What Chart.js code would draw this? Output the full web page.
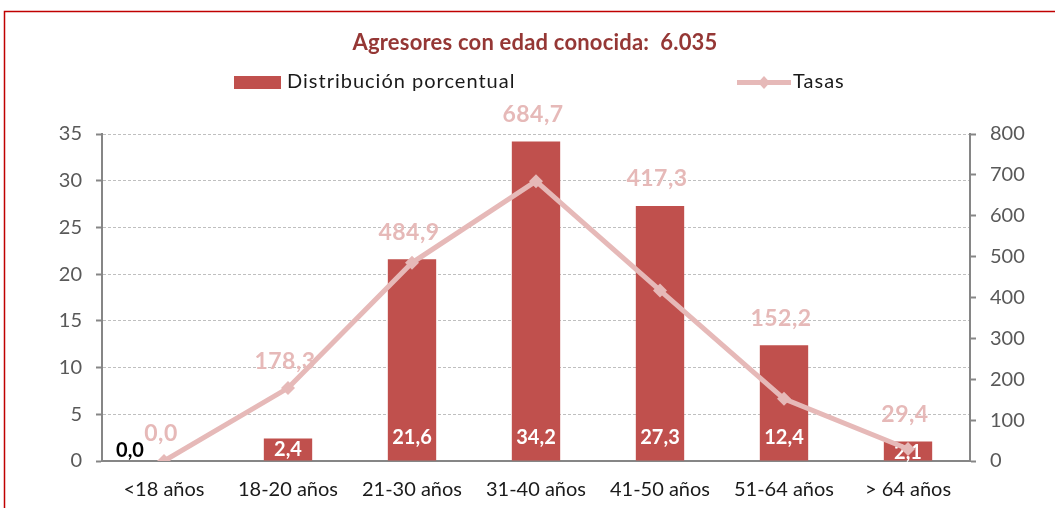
<!DOCTYPE html>
<html><head><meta charset="utf-8">
<script src="https://cdn.jsdelivr.net/npm/chart.js@4.4.1/dist/chart.umd.min.js"></script>
<style>html,body{margin:0;padding:0;background:#fff}#wrap{position:relative;width:1055px;height:508px}</style>
</head><body><div id="wrap"><canvas id="c" width="1055" height="508"></canvas></div>
<script>
const categories = ['<18 años', '18-20 años', '21-30 años', '31-40 años', '41-50 años', '51-64 años', '> 64 años'];
const distribucion = [0.0, 2.4, 21.6, 34.2, 27.3, 12.4, 2.1];
const tasas = [0.0, 178.3, 484.9, 684.7, 417.3, 152.2, 29.4];
const leftAxis = { min: 0, max: 35, step: 5 };
const rightAxis = { min: 0, max: 800, step: 100 };
const titleText = 'Agresores con edad conocida:  6.035';
const seriesNames = ['Distribución porcentual', 'Tasas'];

const BAR = '#C0504D', LINE = '#E6B9B8', AXIS = '#868686', GRID = '#BFBFBF';
const FONT = 'Lato, "Open Sans", sans-serif';
const fmt = v => v.toFixed(1).replace('.', ',');

const deco = {
  id: 'deco',
  beforeDraw(chart) {
    const ctx = chart.ctx;
    ctx.save();
    ctx.fillStyle = '#fff';
    ctx.fillRect(0, 0, chart.width, chart.height);
    ctx.strokeStyle = '#C00000';
    ctx.lineWidth = 1.5;
    ctx.beginPath();
    ctx.moveTo(4.5, chart.height + 2);
    ctx.lineTo(4.5, 11.5);
    ctx.lineTo(chart.width + 2, 11.5);
    ctx.stroke();
    ctx.restore();
  },
  afterDatasetDraw(chart, args) {
    if (args.index !== 0) return;
    const ctx = chart.ctx;
    const meta = chart.getDatasetMeta(0);
    const base = chart.scales.y.getPixelForValue(0);
    ctx.save();
    ctx.font = 'bold 20px ' + FONT;
    ctx.textAlign = 'center';
    ctx.textBaseline = 'middle';
    meta.data.forEach((bar, i) => {
      const v = distribucion[i];
      if (v === 0) {
        ctx.fillStyle = '#000';
        ctx.fillText(fmt(v), bar.x - 34, base - 10);
      } else {
        ctx.fillStyle = '#fff';
        ctx.fillText(fmt(v), bar.x, Math.max(bar.y + 11, base - 23));
      }
    });
    ctx.restore();
  },
  afterDraw(chart) {
    const ctx = chart.ctx;
    const barMeta = chart.getDatasetMeta(0);
    const lineMeta = chart.getDatasetMeta(1);
    ctx.save();
    // line labels
    ctx.font = 'bold 23px ' + FONT;
    if ('letterSpacing' in ctx) ctx.letterSpacing = '0.5px';
    ctx.fillStyle = LINE;
    ctx.textAlign = 'center';
    ctx.textBaseline = 'middle';
    lineMeta.data.forEach((pt, i) => {
      const top = Math.min(barMeta.data[i].y, pt.y);
      ctx.fillText(fmt(tasas[i]), pt.x - 3, top - 27);
    });
    // title
    ctx.font = 'bold 22px ' + FONT;
    if ('letterSpacing' in ctx) ctx.letterSpacing = '0.2px';
    ctx.fillStyle = '#953735';
    ctx.fillText(titleText, 535, 43);
    // legend
    ctx.fillStyle = BAR;
    ctx.fillRect(234, 76, 47, 13);
    ctx.font = '20px ' + FONT;
    if ('letterSpacing' in ctx) ctx.letterSpacing = '1px';
    ctx.fillStyle = '#1a1a1a';
    ctx.textAlign = 'left';
    ctx.fillText(seriesNames[0], 287, 82);
    ctx.strokeStyle = LINE;
    ctx.lineWidth = 5;
    ctx.beginPath();
    ctx.moveTo(737, 82.5);
    ctx.lineTo(791, 82.5);
    ctx.stroke();
    ctx.fillStyle = LINE;
    ctx.beginPath();
    ctx.moveTo(764, 76); ctx.lineTo(770, 82.5); ctx.lineTo(764, 89); ctx.lineTo(758, 82.5);
    ctx.closePath(); ctx.fill();
    ctx.fillStyle = '#1a1a1a';
    ctx.fillText(seriesNames[1], 793, 82);
    ctx.restore();
  }
};

function build() {
  new Chart(document.getElementById('c'), {
    data: {
      labels: categories,
      datasets: [
        { type: 'bar', label: seriesNames[0], data: distribucion, backgroundColor: BAR,
          yAxisID: 'y', order: 2, categoryPercentage: 1, barPercentage: 0.39 },
        { type: 'line', label: seriesNames[1], data: tasas, borderColor: LINE, backgroundColor: LINE,
          borderWidth: 5, pointStyle: 'rectRot', pointRadius: 7, pointHoverRadius: 7,
          pointBackgroundColor: LINE, pointBorderColor: LINE, pointBorderWidth: 0,
          yAxisID: 'y1', order: 1, tension: 0 }
      ]
    },
    options: {
      responsive: false, animation: false, devicePixelRatio: 1,
      layout: { padding: { top: 134, left: 0, right: 0, bottom: 0 } },
      plugins: { legend: { display: false }, title: { display: false }, tooltip: { enabled: false } },
      scales: {
        x: {
          grid: { display: false, drawTicks: false },
          border: { display: true, color: AXIS, width: 2 },
          ticks: { color: '#1a1a1a', font: { family: FONT, size: 20 }, padding: 17, maxRotation: 0 },
          afterFit(s) { s.height = 47; }
        },
        y: {
          position: 'left', min: leftAxis.min, max: leftAxis.max,
          ticks: { stepSize: leftAxis.step, color: '#595959', font: { family: FONT, size: 20 }, padding: 14 },
          grid: { color: GRID, lineWidth: 1, drawTicks: true, tickLength: 6, tickColor: AXIS, tickWidth: 2, tickBorderDash: [] },
          border: { display: true, color: AXIS, width: 2, dash: [3, 2] },
          afterFit(s) { s.width = 102; }
        },
        y1: {
          position: 'right', min: rightAxis.min, max: rightAxis.max,
          ticks: { stepSize: rightAxis.step, color: '#595959', font: { family: FONT, size: 20 }, padding: 14 },
          grid: { drawOnChartArea: false, drawTicks: true, tickLength: 6, tickColor: AXIS, tickWidth: 2 },
          border: { display: true, color: AXIS, width: 2 },
          afterFit(s) { s.width = 85; }
        }
      }
    },
    plugins: [deco]
  });
}
const fontReady = document.fonts ? Promise.all([
  document.fonts.load('20px Lato'), document.fonts.load('bold 20px Lato')
]).catch(() => {}) : Promise.resolve();
Promise.race([fontReady, new Promise(r => setTimeout(r, 800))]).then(build);
</script>
</body></html>
